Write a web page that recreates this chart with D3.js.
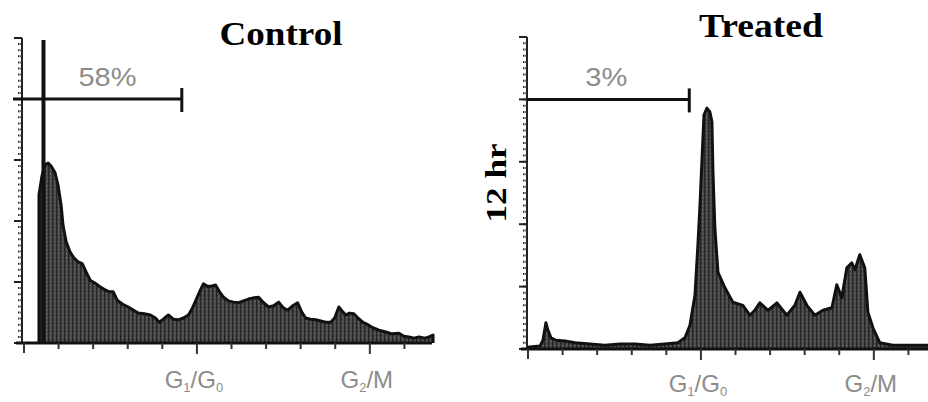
<!DOCTYPE html>
<html><head><meta charset="utf-8">
<script src="https://cdn.jsdelivr.net/npm/d3@7"></script>
<style>html,body{margin:0;padding:0;background:#fff;}svg{display:block;}</style>
</head><body>
<svg id="chart" width="928" height="402"></svg>
<script>
// ---------- DATA ----------
const panelTitles = ["Control", "Treated"];
const rowLabel = "12 hr";
const gatePercent = ["58%", "3%"];
const gateEndChannel = [93, 95];
const gateCount = 400;
const phaseLabels = [{main:"G", sub:"1", mid:"/G", sub2:"0", ch:100}, {main:"G", sub:"2", mid:"/M", sub2:"", ch:200}];
const xTickValues = [0,20,40,60,80,100,120,140,160,180,200,220];
const yTickValues = [0,100,200,300,400,500];

const ctrlChannel = [10.4,10.4,12.2,13.9,15.7,17.4,19.7,21.4,23.2,24.3,26.1,28.4,30.7,33.0,35.4,37.7,40.0,42.9,45.8,48.7,51.0,53.3,55.7,58.6,62.0,64.9,67.8,71.3,74.8,77.7,80.0,82.3,85.2,88.1,91.0,93.9,96.8,99.1,101.4,103.8,105.5,107.8,110.1,112.5,114.8,117.1,120.0,122.9,125.8,128.7,131.6,134.5,137.4,140.3,143.2,146.1,149.0,151.9,154.2,157.1,160.0,162.3,164.6,167.5,170.4,173.3,176.2,179.1,181.4,183.8,186.1,187.8,190.1,192.5,194.8,197.7,200.6,203.5,207.0,211.0,214.5,218.6,221.4,224.3,227.2,230.1,233.6,236.0,238.3,238.3];
const ctrlCount   = [0,243,275,292,295,290,279,259,226,193,166,149,139,133,130,116,103,98,92,87,84,84,70,64,59,54,49,48,46,41,34,39,46,39,38,41,46,57,72,87,97,93,93,95,84,75,69,67,66,69,72,74,75,66,59,61,67,57,54,61,66,51,41,39,38,36,34,34,41,59,51,46,49,48,41,34,30,25,21,18,15,16,11,10,8,10,8,10,13,0];

const trtChannel = [1.2,8.7,10.4,12.1,13.3,15.0,17.9,23.1,28.9,37.6,46.2,54.9,63.6,72.3,80.9,88.4,92.5,95.4,98.3,100.0,101.2,102.3,103.5,105.2,106.9,108.1,108.7,109.8,111.6,115.6,120.2,126.0,130.1,132.9,135.8,140.5,145.7,151.4,156.1,159.0,163.0,167.6,172.3,177.5,180.3,183.2,186.1,189.0,190.8,193.6,196.5,198.3,201.2,205.2,212.7,222.5,233.0,240];
const trtCount   = [3,5,14,42,30,18,14,13,10,8,6,8,8,6,8,10,18,38,86,167,231,300,375,386,380,364,284,194,123,98,75,70,54,62,74,62,74,54,70,91,70,54,62,66,103,82,130,138,127,151,130,59,34,10,6,6,6,6];

// ---------- LAYOUT ----------
const svg = d3.select("#chart");
const panels = [
  {channel: ctrlChannel, count: ctrlCount, x0: 21, x1: 436, y0: 343, y1: 38, axisX: 22, xEnd: 432,
   title: panelTitles[0], titleX: 281, titleY: 45, titleW: 123,
   pct: gatePercent[0], pctCh: 50, pctY: 86, pctW: 58, gateEnd: gateEndChannel[0], gateStartX: 13,
   labelY: 388, gateLine: 13},
  {channel: trtChannel, count: trtCount, x0: 525, x1: 940, y0: 349, y1: 37, axisX: 527, xEnd: 928,
   title: panelTitles[1], titleX: 761, titleY: 37, titleW: 124,
   pct: gatePercent[1], pctCh: 47, pctY: 86, pctW: 42, gateEnd: gateEndChannel[1], gateStartX: 527,
   labelY: 392, gateLine: null}
];

const defs = svg.append("defs");
const pat = defs.append("pattern").attr("id","stip").attr("patternUnits","userSpaceOnUse")
  .attr("width",4).attr("height",4);
pat.append("rect").attr("width",4).attr("height",4).attr("fill","#4a4a4a");
pat.append("rect").attr("x",0).attr("y",0).attr("width",1.5).attr("height",4).attr("fill","#262626");
pat.append("rect").attr("x",2).attr("y",1).attr("width",1).attr("height",1).attr("fill","#7a7a7a");

panels.forEach(p => {
  const x = d3.scaleLinear().domain([0,240]).range([p.x0, p.x1]);
  const y = d3.scaleLinear().domain([0,500]).range([p.y0, p.y1]);
  const g = svg.append("g");

  // histogram
  const pts = p.channel.map((c,i) => [c, p.count[i]]);
  const area = d3.area().x(d => x(d[0])).y0(y(0)).y1(d => y(d[1])).curve(d3.curveLinear);
  const line = d3.line().x(d => x(d[0])).y(d => y(d[1])).curve(d3.curveLinear);
  g.append("path").datum(pts).attr("d", area).attr("fill","url(#stip)");
  g.append("path").datum(pts).attr("d", line).attr("fill","none").attr("stroke","#111")
    .attr("stroke-width",3).attr("stroke-linejoin","round");

  // y axis with minor ticks
  const yMinor = d3.range(0, 501, 10);
  g.append("line").attr("x1",p.axisX).attr("x2",p.axisX).attr("y1",y(500)).attr("y2",y(0))
    .attr("stroke","#222").attr("stroke-width",2);
  g.selectAll(".ymin").data(yMinor).join("line")
    .attr("x1",p.axisX-4).attr("x2",p.axisX).attr("y1",d=>y(d)).attr("y2",d=>y(d))
    .attr("stroke","#333").attr("stroke-width",2).attr("stroke-dasharray","1.5,0.8");
  g.selectAll(".ymaj").data(yTickValues).join("line")
    .attr("x1",p.axisX-8).attr("x2",p.axisX).attr("y1",d=>y(d)).attr("y2",d=>y(d))
    .attr("stroke","#222").attr("stroke-width",2);

  // x axis
  g.append("line").attr("x1",p.axisX-6).attr("x2",p.xEnd).attr("y1",y(0)).attr("y2",y(0))
    .attr("stroke","#111").attr("stroke-width",3);
  g.selectAll(".xt").data(xTickValues).join("line")
    .attr("x1",d=>x(d)+3).attr("x2",d=>x(d)+3).attr("y1",y(0))
    .attr("y2",d=> y(0) + (d===100||d===200 ? 11 : (d===0 ? 10 : 6)))
    .attr("stroke","#333").attr("stroke-width",2);

  // gate
  g.append("line").attr("x1",p.gateStartX).attr("x2",x(p.gateEnd)).attr("y1",y(gateCount)).attr("y2",y(gateCount))
    .attr("stroke","#111").attr("stroke-width",3);
  g.append("line").attr("x1",x(p.gateEnd)).attr("x2",x(p.gateEnd)).attr("y1",y(gateCount)-11).attr("y2",y(gateCount)+13)
    .attr("stroke","#111").attr("stroke-width",3);
  if (p.gateLine !== null) {
    g.append("line").attr("x1",x(p.gateLine)).attr("x2",x(p.gateLine)).attr("y1",40).attr("y2",y(0))
      .attr("stroke","#111").attr("stroke-width",4);
  }
  g.append("text").attr("x",x(p.pctCh)).attr("y",p.pctY).attr("text-anchor","middle")
    .attr("font-family","Liberation Sans, Arial, sans-serif").attr("font-size",25)
    .attr("fill","#8c8c8c").attr("textLength",p.pctW).attr("lengthAdjust","spacingAndGlyphs").text(p.pct);

  // title
  g.append("text").attr("x",p.titleX).attr("y",p.titleY).attr("text-anchor","middle")
    .attr("font-family","Liberation Serif, Times New Roman, serif").attr("font-weight","bold")
    .attr("font-size",33).attr("fill","#000").attr("textLength",p.titleW).attr("lengthAdjust","spacingAndGlyphs")
    .text(p.title);

  // phase labels
  phaseLabels.forEach(l => {
    const t = g.append("text").attr("x",x(l.ch)).attr("y",p.labelY).attr("text-anchor","middle")
      .attr("font-family","Liberation Sans, Arial, sans-serif").attr("font-size",24).attr("fill","#8c8c8c");
    t.append("tspan").text(l.main);
    t.append("tspan").attr("font-size",13).attr("dy",4).text(l.sub);
    t.append("tspan").attr("dy",-4).text(l.mid);
    if (l.sub2) t.append("tspan").attr("font-size",13).attr("dy",4).text(l.sub2);
  });
});

// row label
svg.append("text").attr("transform","translate(506,183) rotate(-90)").attr("text-anchor","middle")
  .attr("font-family","Liberation Serif, Times New Roman, serif").attr("font-weight","bold")
  .attr("font-size",30).attr("fill","#000").attr("textLength",79).attr("lengthAdjust","spacingAndGlyphs")
  .text(rowLabel);
</script>
</body></html>
